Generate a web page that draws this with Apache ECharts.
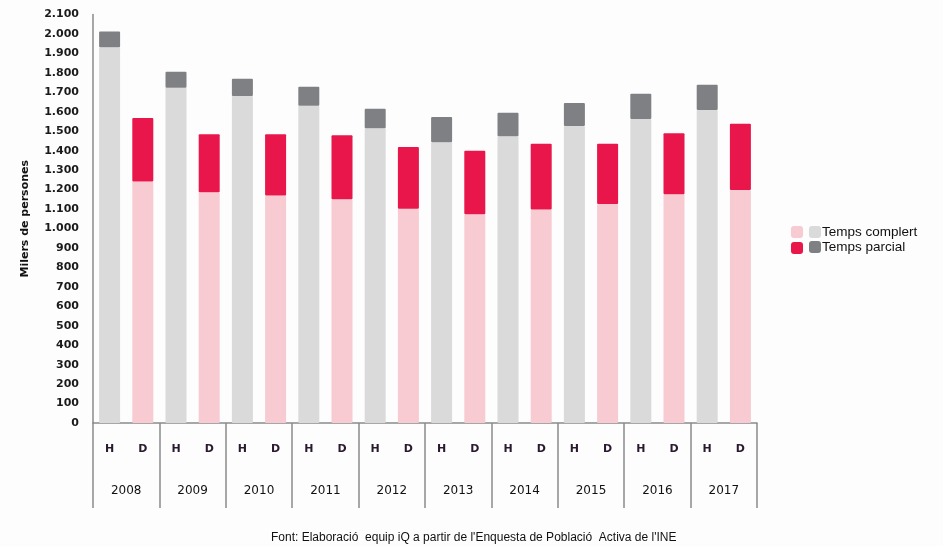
<!DOCTYPE html>
<html>
<head>
<meta charset="utf-8">
<script src="https://cdn.jsdelivr.net/npm/echarts@6/dist/echarts.min.js"></script>
<style>
  html, body { margin: 0; padding: 0; background: #fdfdfe; }
  #chart { width: 943px; height: 546px; }
</style>
</head>
<body>
<div id="chart"></div>
<script>
// years and sex codes (H = homes, D = dones)
const years = ['2008', '2009', '2010', '2011', '2012', '2013', '2014', '2015', '2016', '2017']
const sexes = ['H', 'D']

// thousands of people
const homesComplert = [1931, 1724, 1681, 1631, 1515, 1443, 1474, 1527, 1563, 1609]
const homesParcial  = [82, 82, 89, 98, 101, 130, 121, 118, 130, 130]
const donesComplert = [1241, 1186, 1169, 1150, 1102, 1073, 1097, 1126, 1176, 1198]
const donesParcial  = [327, 298, 315, 329, 317, 327, 339, 310, 313, 341]

const yTicks = { min: 0, max: 2100, interval: 100 }
const source = "Font: Elaboració  equip iQ a partir de l'Enquesta de Població  Activa de l'INE"

// one category per bar: H, D, H, D ...
const cats = []
years.forEach(() => sexes.forEach((s) => cats.push(s)))

// spread a per-year array onto the H or D slots
const spread = (arr, slot) => cats.map((_, i) => (i % 2 === slot ? arr[Math.floor(i / 2)] : '-'))

const colors = {
  hComp: '#dadadb', hParc: '#7e8083',
  dComp: '#f7cbd1', dParc: '#e8164a',
}

const fmt = (v) => {
  const s = String(v)
  return s.length > 3 ? s.slice(0, -3) + '.' + s.slice(-3) : s
}

const chart = echarts.init(document.getElementById('chart'), null, { renderer: 'canvas' })

const bar = (name, data, color) => ({
  name, type: 'bar', stack: 'total', data, barWidth: 21,
  itemStyle: { color, borderRadius: 1 },
  emphasis: { disabled: true },
})

chart.setOption({
  backgroundColor: '#fdfdfe',
  animation: false,
  textStyle: { fontFamily: 'DejaVu Sans' },
  grid: { left: 93, right: 186, top: 14.5, bottom: 123 },
  legend: [
    {
      data: ['D complert', 'D parcial'],
      orient: 'vertical', left: 786, top: 221,
      itemWidth: 12, itemHeight: 12, itemGap: 4,
      formatter: () => '',
      selectedMode: false,
    },
    {
      data: ['Temps complert', 'Temps parcial'],
      orient: 'vertical', left: 804, top: 220,
      itemWidth: 12, itemHeight: 12, itemGap: 1,
      textStyle: {
        fontFamily: 'Liberation Sans', fontSize: 13.5, lineHeight: 12,
        color: '#111', padding: [0, 0, 0, -4],
      },
      selectedMode: false,
    },
  ],
  xAxis: [
    {
      type: 'category', data: cats, position: 'bottom',
      axisLine: { lineStyle: { color: '#8a8a8a', width: 1.5 } },
      axisTick: { show: false },
      axisLabel: { interval: 0, margin: 21, fontSize: 11, fontWeight: 'bold', color: '#2a1a30' },
    },
    {
      type: 'category', data: years, position: 'bottom',
      axisLine: { show: false },
      axisTick: { show: true, interval: 0, length: 85, lineStyle: { color: '#8a8a8a', width: 1.5 } },
      axisLabel: { interval: 0, margin: 62, fontSize: 12, color: '#111' },
    },
  ],
  yAxis: {
    type: 'value', ...yTicks,
    name: 'Milers de persones', nameLocation: 'middle', nameGap: 62, nameRotate: 90,
    nameTextStyle: { fontFamily: 'DejaVu Sans', fontWeight: 'bold', fontSize: 11, color: '#111' },
    axisLine: { show: true, lineStyle: { color: '#8a8a8a', width: 1.5 } },
    axisTick: { show: false },
    splitLine: { show: false },
    axisLabel: { margin: 14, fontSize: 11, fontWeight: 'bold', color: '#1a1a1a', formatter: fmt },
  },
  title: {
    text: source, left: 266, top: 527,
    textStyle: { fontFamily: 'Liberation Sans', fontSize: 12, fontWeight: 'normal', color: '#111' },
  },
  series: [
    bar('Temps complert', spread(homesComplert, 0), colors.hComp),
    bar('D complert', spread(donesComplert, 1), colors.dComp),
    bar('Temps parcial', spread(homesParcial, 0), colors.hParc),
    bar('D parcial', spread(donesParcial, 1), colors.dParc),
  ],
})
</script>
</body>
</html>
